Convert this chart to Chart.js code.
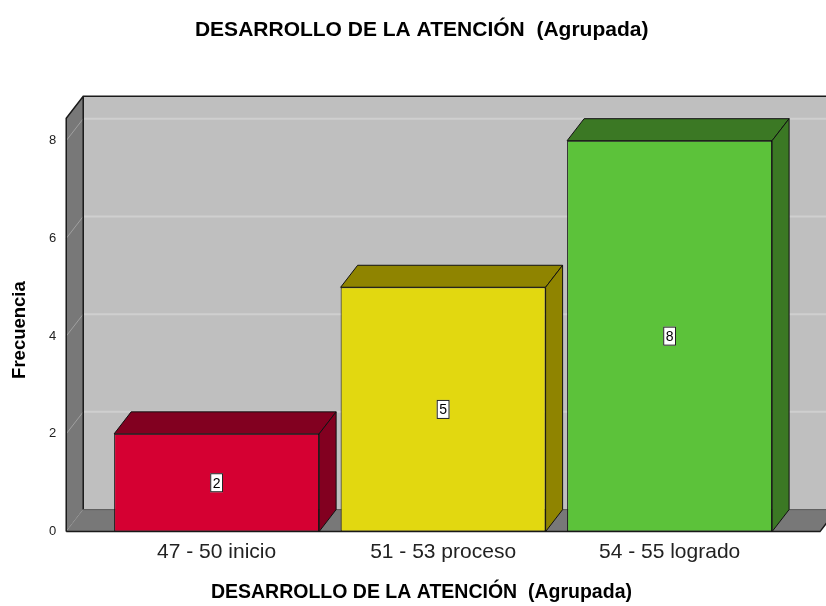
<!DOCTYPE html>
<html>
<head>
<meta charset="utf-8">
<script src="https://cdn.jsdelivr.net/npm/chart.js@4"></script>
<style>
  html, body { margin: 0; padding: 0; background: #ffffff; }
  #wrap { width: 826px; height: 606px; }
</style>
</head>
<body>
<div id="wrap"><canvas id="attChart" width="826" height="606"></canvas></div>
<script>
// Data
const categories = ['47 - 50 inicio', '51 - 53 proceso', '54 - 55 logrado'];
const counts = [2, 5, 8];
const yTicks = [0, 2, 4, 6, 8];

const frontColors = ['#d50032', '#e2d810', '#5cc23a'];
const sideColors = ['#820020', '#8f8400', '#3b7824'];

// depth of the fake 3D box
const DX = 17;
const DY = -22;

// Walls, floor and back grid lines
const wallsPlugin = {
    id: 'walls',
    beforeDatasetsDraw(chart) {
        const ctx = chart.ctx;
        const a = chart.chartArea;
        const yScale = chart.scales.y;
        ctx.save();

        // back wall
        ctx.fillStyle = '#bfbfbf';
        ctx.fillRect(a.left + DX, a.top + DY, a.right - a.left, a.bottom - a.top);

        // grid lines on back wall
        ctx.strokeStyle = '#cfcfcf';
        ctx.lineWidth = 2;
        yTicks.forEach(v => {
            if (v === 0) return;
            const y = yScale.getPixelForValue(v);
            ctx.beginPath();
            ctx.moveTo(a.left + DX, y + DY);
            ctx.lineTo(a.right + DX, y + DY);
            ctx.stroke();
        });

        // left side wall
        ctx.fillStyle = '#787878';
        ctx.beginPath();
        ctx.moveTo(a.left, a.top);
        ctx.lineTo(a.left + DX, a.top + DY);
        ctx.lineTo(a.left + DX, a.bottom + DY);
        ctx.lineTo(a.left, a.bottom);
        ctx.closePath();
        ctx.fill();

        // diagonal grid lines on side wall
        ctx.strokeStyle = '#a0a0a0';
        ctx.lineWidth = 1;
        yTicks.forEach(v => {
            const y = yScale.getPixelForValue(v);
            ctx.beginPath();
            ctx.moveTo(a.left, y);
            ctx.lineTo(a.left + DX, y + DY);
            ctx.stroke();
        });

        // floor
        ctx.fillStyle = '#787878';
        ctx.beginPath();
        ctx.moveTo(a.left, a.bottom);
        ctx.lineTo(a.right, a.bottom);
        ctx.lineTo(a.right + DX, a.bottom + DY);
        ctx.lineTo(a.left + DX, a.bottom + DY);
        ctx.closePath();
        ctx.fill();

        // edges
        ctx.strokeStyle = '#1a1a1a';
        ctx.lineWidth = 1.5;
        ctx.beginPath();
        ctx.moveTo(a.left, a.bottom);
        ctx.lineTo(a.left, a.top);
        ctx.lineTo(a.left + DX, a.top + DY);
        ctx.lineTo(a.right + DX, a.top + DY);
        ctx.moveTo(a.left + DX, a.top + DY);
        ctx.lineTo(a.left + DX, a.bottom + DY);
        ctx.moveTo(a.left, a.bottom);
        ctx.lineTo(a.right, a.bottom);
        ctx.lineTo(a.right + DX, a.bottom + DY);
        ctx.stroke();

        ctx.strokeStyle = '#5a5a5a';
        ctx.lineWidth = 1;
        ctx.beginPath();
        ctx.moveTo(a.left + DX, a.bottom + DY);
        ctx.lineTo(a.right + DX, a.bottom + DY);
        ctx.stroke();

        ctx.restore();
    },
    afterDatasetsDraw(chart) {
        const ctx = chart.ctx;
        const meta = chart.getDatasetMeta(0);
        ctx.save();
        meta.data.forEach((bar, i) => {
            const p = bar.getProps(['x', 'y', 'base', 'width'], true);
            const x1 = p.x - p.width / 2;
            const x2 = p.x + p.width / 2;
            ctx.fillStyle = sideColors[i];
            ctx.strokeStyle = '#111111';
            ctx.lineWidth = 1;
            // top face
            ctx.beginPath();
            ctx.moveTo(x1, p.y);
            ctx.lineTo(x1 + DX, p.y + DY);
            ctx.lineTo(x2 + DX, p.y + DY);
            ctx.lineTo(x2, p.y);
            ctx.closePath();
            ctx.fill();
            ctx.stroke();
            // right face
            ctx.beginPath();
            ctx.moveTo(x2, p.y);
            ctx.lineTo(x2 + DX, p.y + DY);
            ctx.lineTo(x2 + DX, p.base + DY);
            ctx.lineTo(x2, p.base);
            ctx.closePath();
            ctx.fill();
            ctx.stroke();

            // value label box
            const cy = (p.y + p.base) / 2;
            const txt = String(counts[i]);
            ctx.font = '14px "Liberation Sans", Arial, sans-serif';
            const w = ctx.measureText(txt).width + 5;
            const h = 19;
            ctx.fillStyle = '#ffffff';
            ctx.fillRect(p.x - w / 2, cy - h / 2, w, h);
            ctx.strokeStyle = '#222222';
            ctx.strokeRect(p.x - w / 2 + 0.5, cy - h / 2 + 0.5, w - 1, h - 1);
            ctx.fillStyle = '#000000';
            ctx.textAlign = 'center';
            ctx.textBaseline = 'middle';
            ctx.fillText(txt, p.x, cy + 1);
        });
        ctx.restore();
    }
};

const chartData = {
    datasets: [{
        label: 'Frecuencia',
        data: categories.map((c, i) => ({ x: i, y: counts[i] })),
        backgroundColor: frontColors,
        borderColor: '#111111',
        borderWidth: 1,
        borderSkipped: false,
        categoryPercentage: 1,
        barPercentage: 0.905
    }]
};

new Chart(document.getElementById('attChart').getContext('2d'), {
    type: 'bar',
    data: chartData,
    plugins: [wallsPlugin],
    options: {
        responsive: false,
        animation: false,
        layout: { padding: { left: 0, right: 6, top: 0, bottom: 0 } },
        plugins: {
            legend: { display: false },
            tooltip: { enabled: false },
            title: {
                display: true,
                // leading spaces nudge the centred title a little to the right
                text: '    DESARROLLO DE LA ATENCIÓN  (Agrupada)',
                color: '#000000',
                font: { family: '"Liberation Sans", Arial, sans-serif', size: 21, weight: 'bold' },
                padding: { top: 18, bottom: 75 }
            }
        },
        scales: {
            x: {
                type: 'linear',
                offset: false,
                min: -0.664,
                max: 2.664,
                afterBuildTicks: scale => {
                    scale.ticks = categories.map((c, i) => ({ value: i }));
                },
                ticks: {
                    autoSkip: false,
                    maxRotation: 0,
                    padding: 8,
                    color: '#222222',
                    font: { family: '"Liberation Sans", Arial, sans-serif', size: 21 },
                    callback: (v, i) => categories[i]
                },
                grid: { display: false, drawTicks: false },
                border: { display: false },
                title: {
                    display: true,
                    // trailing spaces nudge it to the left like the original
                    text: 'DESARROLLO DE LA ATENCIÓN  (Agrupada)        ',
                    color: '#000000',
                    font: { family: '"Liberation Sans", Arial, sans-serif', size: 19.5, weight: 'bold' },
                    padding: { top: 8.6, bottom: 1.2 }
                }
            },
            y: {
                min: 0,
                max: 8.46,
                afterBuildTicks: scale => {
                    scale.ticks = yTicks.map(v => ({ value: v }));
                },
                ticks: {
                    padding: 10,
                    color: '#222222',
                    font: { family: '"Liberation Sans", Arial, sans-serif', size: 13 }
                },
                grid: { display: false, drawTicks: false },
                border: { display: false },
                title: {
                    display: true,
                    text: 'Frecuencia  ',
                    color: '#000000',
                    font: { family: '"Liberation Sans", Arial, sans-serif', size: 18.5, weight: 'bold' },
                    padding: { top: 8.9, bottom: 7.9 }
                }
            }
        }
    }
});
</script>
</body>
</html>
